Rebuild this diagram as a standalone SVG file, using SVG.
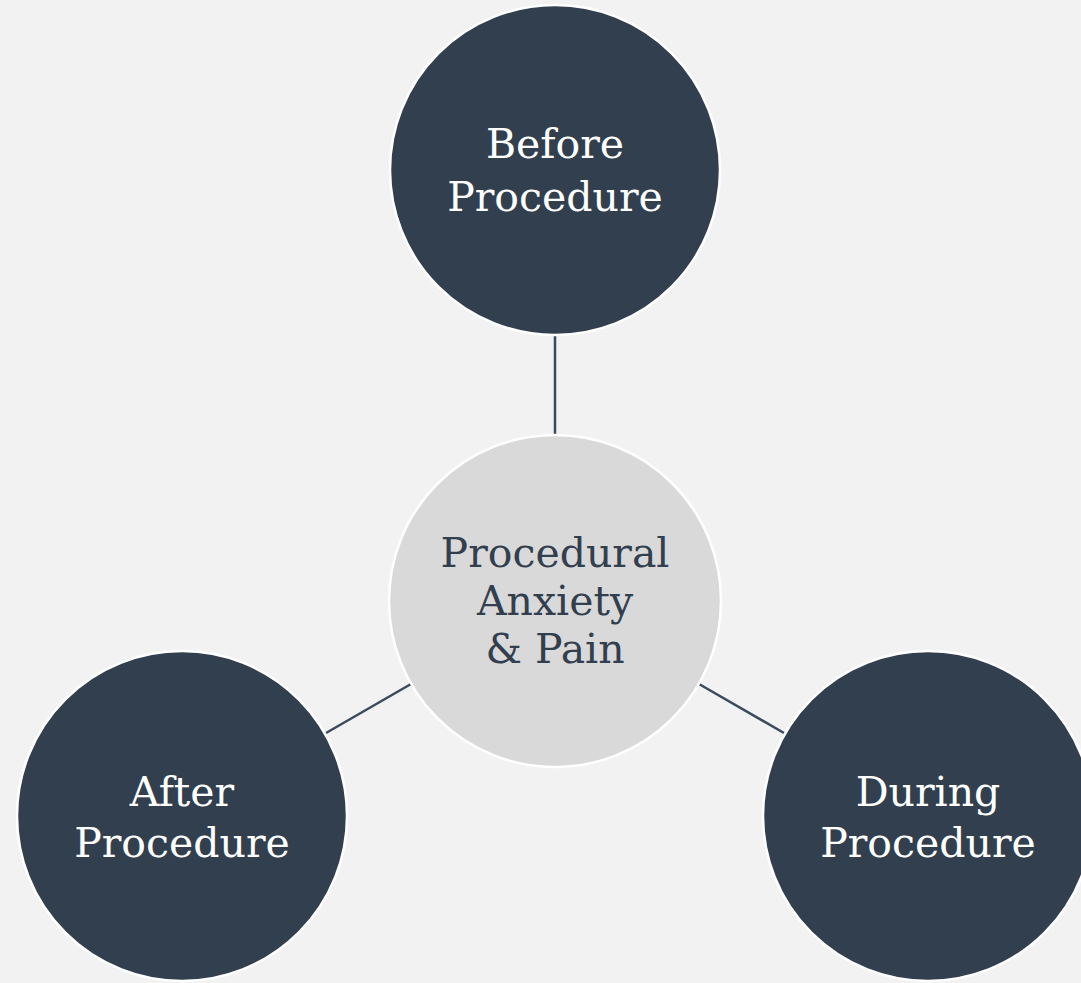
<svg xmlns="http://www.w3.org/2000/svg" width="1081" height="983" viewBox="0 0 1081 983">
<style>
.outer{fill:#323f4f;stroke:#ffffff;stroke-width:2.5}
.hub{fill:#d9d9d9;stroke:#ffffff;stroke-width:2.5}
.lbl{font-family:"DejaVu Serif","Liberation Serif",serif;font-size:41px;text-anchor:middle}
.w{fill:#ffffff}
.d{fill:#323f4f}
.conn{stroke:#3b4b5e;stroke-width:2.5;fill:none}
</style>
<rect width="1081" height="983" fill="#f2f2f2"/>
<g id="connectors">
<line class="conn" x1="555" y1="336" x2="555" y2="436"/>
<line class="conn" x1="411" y1="684" x2="326" y2="733"/>
<line class="conn" x1="699" y1="684" x2="784" y2="733"/>
</g>
<g id="before">
<circle class="outer" cx="555" cy="170" r="165"/>
<text class="lbl w" x="555" y="158">Before</text>
<text class="lbl w" x="555" y="211">Procedure</text>
</g>
<g id="center">
<circle class="hub" cx="555" cy="601" r="166"/>
<text class="lbl d" x="555" y="567">Procedural</text>
<text class="lbl d" x="555" y="615">Anxiety</text>
<text class="lbl d" x="555" y="663">&amp; Pain</text>
</g>
<g id="after">
<circle class="outer" cx="182" cy="816" r="165"/>
<text class="lbl w" x="182" y="806">After</text>
<text class="lbl w" x="182" y="857">Procedure</text>
</g>
<g id="during">
<circle class="outer" cx="928" cy="816" r="165"/>
<text class="lbl w" x="928" y="806">During</text>
<text class="lbl w" x="928" y="857">Procedure</text>
</g>
</svg>
